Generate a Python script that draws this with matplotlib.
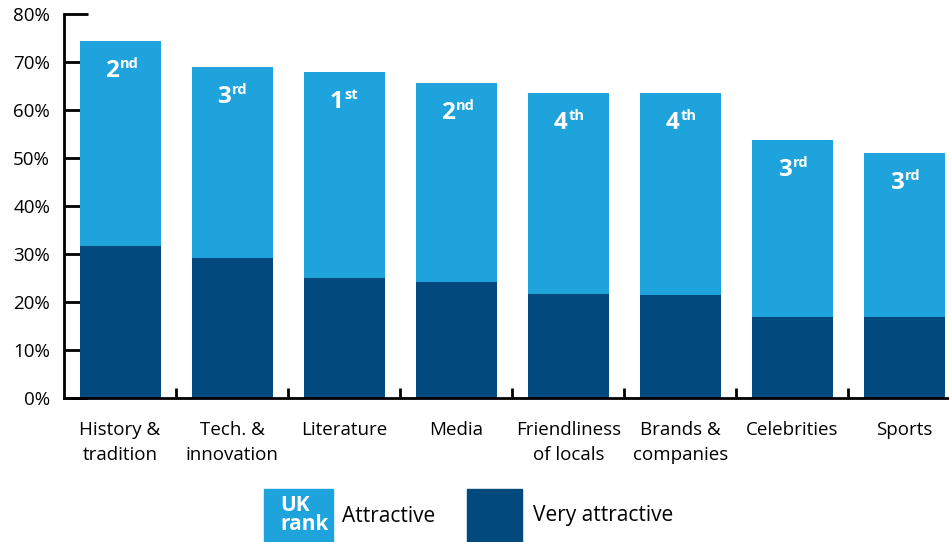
import numpy as np
import matplotlib
matplotlib.use("Agg")
import matplotlib.pyplot as plt
from matplotlib.patches import Rectangle

plt.rcParams['font.family'] = ['Open Sans', 'DejaVu Sans']

categories = ["History &\ntradition", "Tech. &\ninnovation", "Literature", "Media",
              "Friendliness\nof locals", "Brands &\ncompanies", "Celebrities", "Sports"]
attractive_total = [74.4, 69.0, 67.9, 65.6, 63.5, 63.5, 53.7, 51.0]
very_attractive = [31.6, 29.2, 25.0, 24.1, 21.6, 21.4, 16.8, 16.8]
rank_num = ["2", "3", "1", "2", "4", "4", "3", "3"]
rank_suffix = ["nd", "rd", "st", "nd", "th", "th", "rd", "rd"]

light = "#1EA3DC"
dark = "#024A7E"

W, H = 949, 542
fig = plt.figure(figsize=(W / 100, H / 100), dpi=100)
ax = fig.add_axes([64 / W, (H - 397.7) / H, (W - 64) / W, (397.7 - 14) / H])

x = np.arange(len(categories))
attr_only = np.array(attractive_total) - np.array(very_attractive)
ax.bar(x, very_attractive, width=0.723, color=dark, zorder=3)
ax.bar(x, attr_only, bottom=very_attractive, width=0.723, color=light, zorder=3)

# rank labels near the top of each bar
for xi, top, n, s in zip(x, attractive_total, rank_num, rank_suffix):
    ax.annotate(n, (xi, top), xytext=(-1, -36), textcoords='offset pixels',
                ha='right', va='baseline', color='white', fontsize=17.5,
                fontweight='bold', zorder=4)
    ax.annotate(s, (xi, top), xytext=(0, -27), textcoords='offset pixels',
                ha='left', va='baseline', color='white', fontsize=10.5,
                fontweight='bold', zorder=4)

ax.set_yticks(np.arange(0, 81, 10))
ax.set_yticklabels([f"{v}%" for v in range(0, 81, 10)])
ax.set_xticks(x)
ax.set_xticklabels(categories, linespacing=1.45)
ax.set_xticks(np.arange(0.5, len(categories), 1), minor=True)
ax.set_xlim(-0.5, (W - 120.5) / 112)
ax.set_ylim(0, 80)

for sp in ['top', 'right']:
    ax.spines[sp].set_visible(False)
for sp in ['left', 'bottom']:
    ax.spines[sp].set_linewidth(2)
    ax.spines[sp].set_zorder(5)

ax.tick_params(axis='y', direction='in', length=17, width=2, pad=10,
               labelsize=13.5, colors='black')
ax.tick_params(axis='x', which='major', length=0, pad=17, labelsize=13.5)
ax.tick_params(axis='x', which='minor', direction='in', length=7, width=2)

# legend at the bottom
fig.patches.append(Rectangle((264 / W, 0), 69 / W, 53 / H, color=light,
                             transform=fig.transFigure, figure=fig))
fig.text(280 / W, 27 / H, "UK\nrank", color='white', fontweight='bold',
         fontsize=15, ha='left', va='center', linespacing=0.85)
fig.text(342 / W, 26 / H, "Attractive", fontsize=15, ha='left', va='center')
fig.patches.append(Rectangle((467 / W, 0), 55 / W, 53 / H, color=dark,
                             transform=fig.transFigure, figure=fig))
fig.text(533 / W, 26 / H, "Very attractive", fontsize=15, ha='left', va='center')

fig.savefig("out.png", dpi=100)
